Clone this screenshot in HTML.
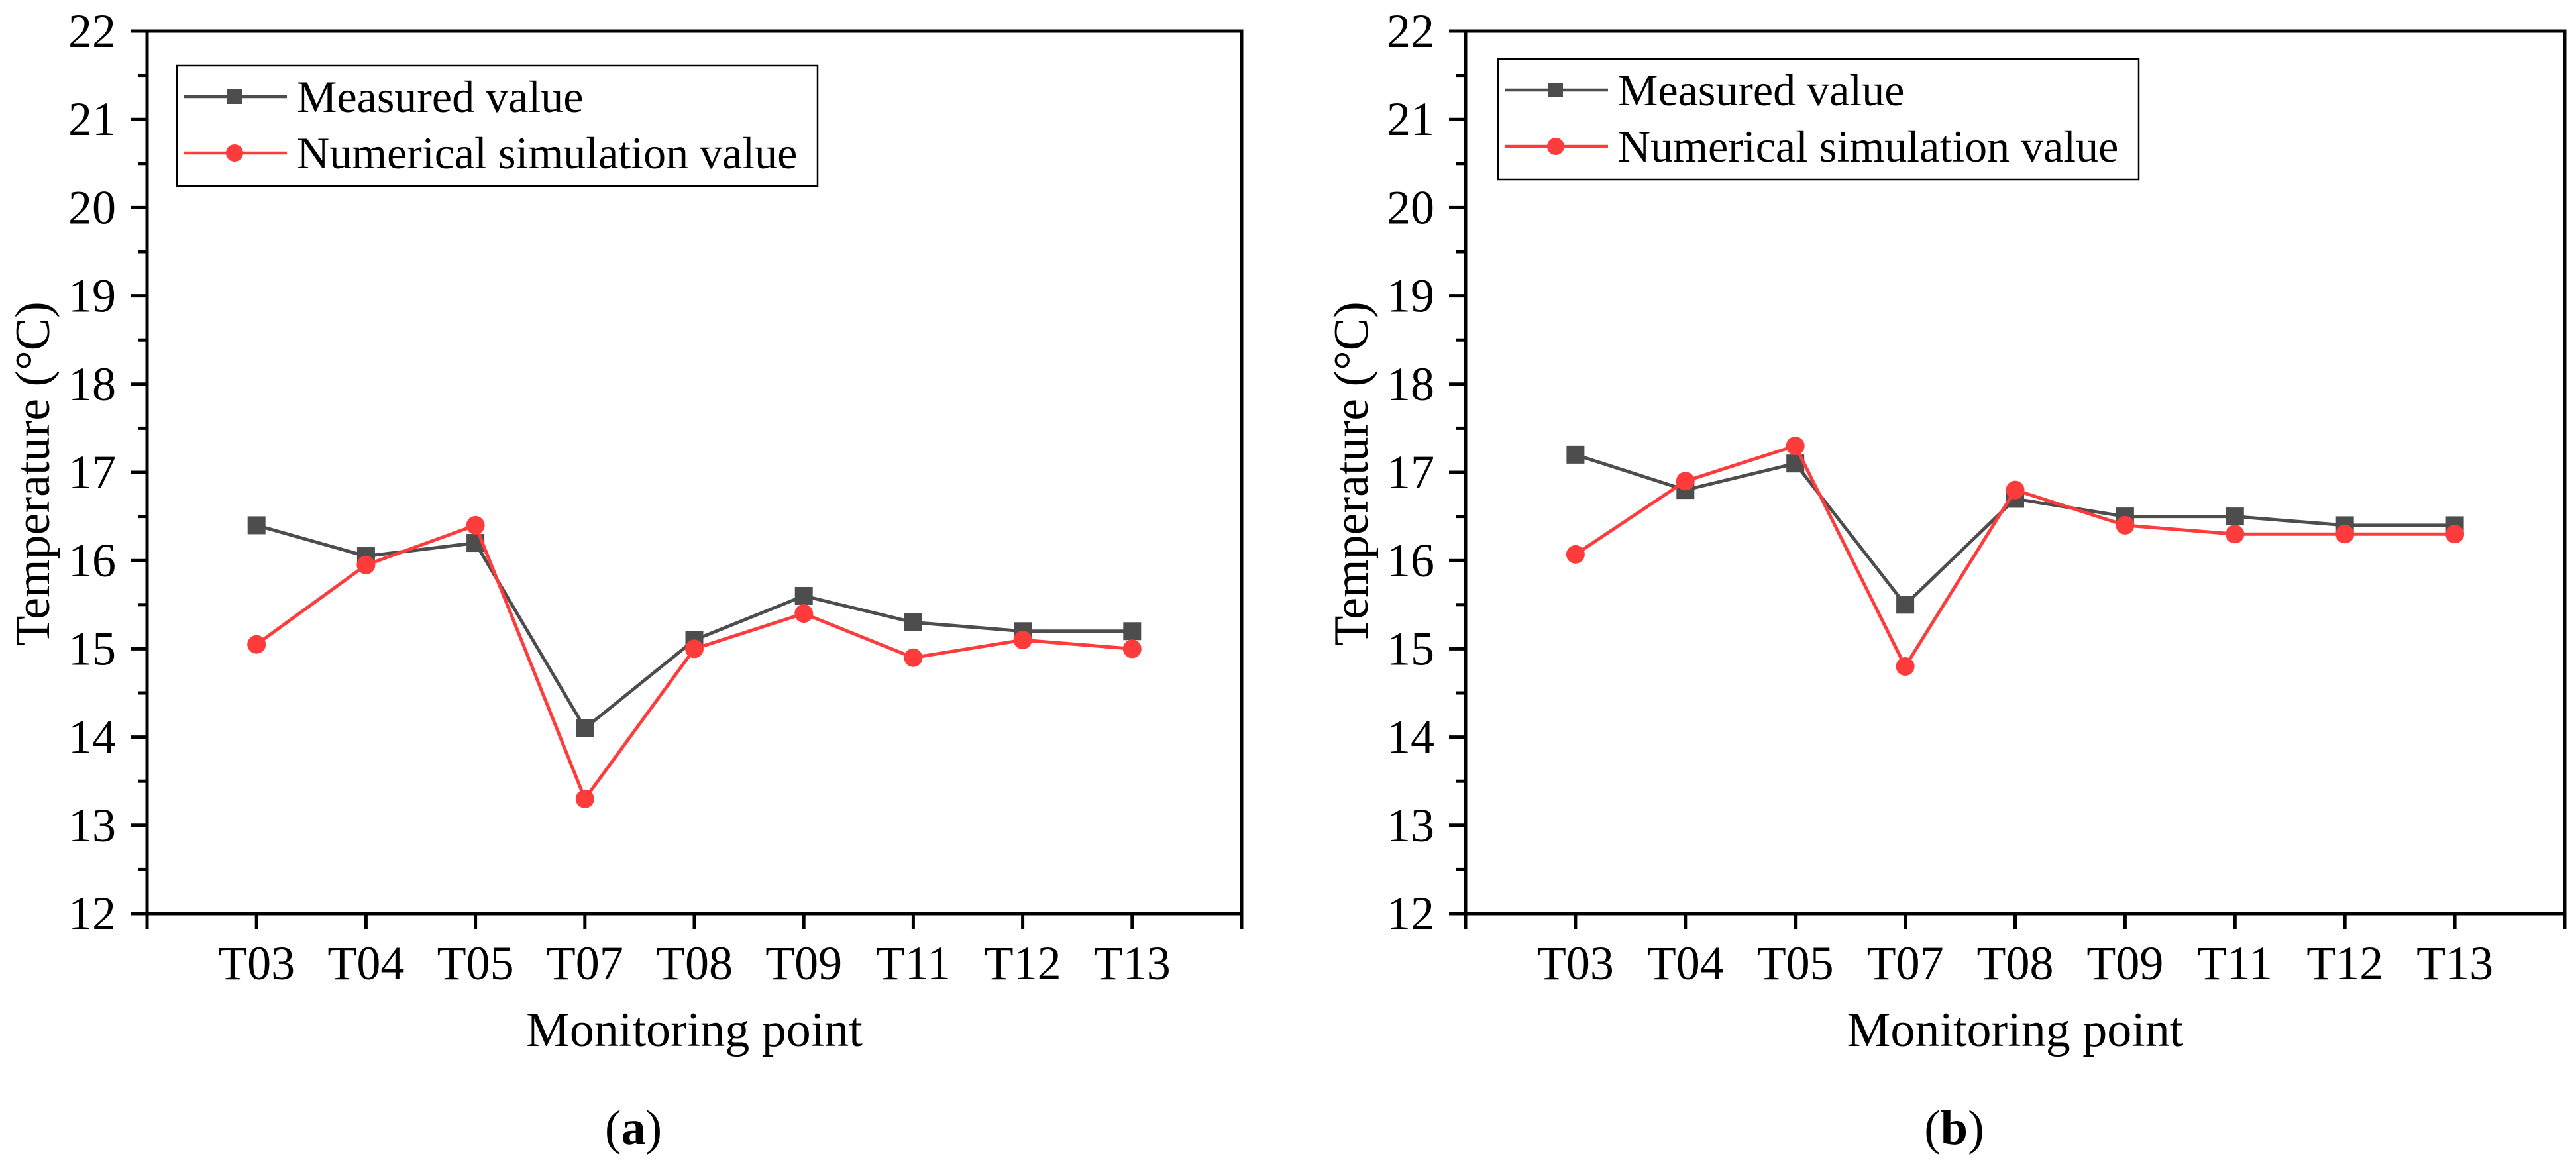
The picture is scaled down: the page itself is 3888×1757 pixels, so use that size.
<!DOCTYPE html>
<html><head><meta charset="utf-8"><style>
html,body{margin:0;padding:0;background:#fff;}
svg{display:block;}
svg text{font-family:"Liberation Serif","Times New Roman","DejaVu Serif",serif;}
</style></head><body>
<svg id="fig" width="3888" height="1757" viewBox="0 0 3888 1757" xmlns="http://www.w3.org/2000/svg" font-family="'Liberation Serif', 'Times New Roman', serif"></svg>
<script>
const categories = ["T03","T04","T05","T07","T08","T09","T11","T12","T13"];
const yTicks = [12,13,14,15,16,17,18,19,20,21,22];
const measuredA = [16.4,16.05,16.2,14.1,15.1,15.6,15.3,15.2,15.2];
const simulatedA = [15.05,15.95,16.4,13.3,15.0,15.4,14.9,15.1,15.0];
const measuredB = [17.2,16.8,17.1,15.5,16.7,16.5,16.5,16.4,16.4];
const simulatedB = [16.07,16.9,17.3,14.8,16.8,16.4,16.3,16.3,16.3];
const panelLabels = ["(a)","(b)"];

const NS="http://www.w3.org/2000/svg";
const FF="'Liberation Serif', 'Times New Roman', 'DejaVu Serif', serif";
const svg=document.getElementById('fig');
function mk(tag,attrs,parent){const e=document.createElementNS(NS,tag);for(const k in attrs)e.setAttribute(k,attrs[k]);if(tag==='text')e.setAttribute('font-family',FF);(parent||svg).appendChild(e);return e;}

function panel(idx,L,R,T,B,meas,sim,leg){
  const g=mk('g',{});
  
  
  const ymin=12,ymax=22;
  const yS=v=>B-(v-ymin)/(ymax-ymin)*(B-T);
  const xS=i=>L+(i+1)*(R-L)/(categories.length+1);
  yTicks.forEach((v,i)=>{
    const y=yS(v);
    const t=mk('line',{x1:L-25,x2:L,y1:y,y2:y,stroke:'#000','stroke-width':5},g);
    
    
    const tx=mk('text',{x:L-47,y:y+24,'font-size':72,'text-anchor':'end',fill:'#000'},g);
    tx.textContent=v;
    
    
    if(i<yTicks.length-1){
      const ym=yS(v+0.5);
      const m=mk('line',{x1:L-14,x2:L,y1:ym,y2:ym,stroke:'#000','stroke-width':5},g);
      
      
    }
  });
  categories.forEach((c,i)=>{
    const x=xS(i);
    const t=mk('line',{x1:x,x2:x,y1:B,y2:B+24,stroke:'#000','stroke-width':5},g);
    
    
    const tx=mk('text',{x:x,y:B+99,'font-size':72,'text-anchor':'middle',fill:'#000'},g);
    tx.textContent=c;
    
    
  });
  [L,R].forEach(x=>{const e=mk('line',{x1:x,x2:x,y1:B,y2:B+24,stroke:'#000','stroke-width':5},g);
    
    });
  const frame=mk('rect',{x:L,y:T,width:R-L,height:B-T,fill:'none',stroke:'#000','stroke-width':5},g);
  
  
  function series(vals,color,kind,name){
    const pts=vals.map((v,i)=>xS(i)+','+yS(v)).join(' ');
    const pl=mk('polyline',{points:pts,fill:'none',stroke:color,'stroke-width':5},g);
    
    
    vals.forEach((v,i)=>{
      let m;
      if(kind==='sq') m=mk('rect',{x:xS(i)-13.5,y:yS(v)-13.5,width:27,height:27,fill:color},g);
      else m=mk('circle',{cx:xS(i),cy:yS(v),r:14,fill:color},g);
      
      
    });
  }
  series(meas,'#4d4d4d','sq','measured');
  series(sim,'#ff3b3b','ci','simulated');
  const lg=mk('g',{},g);
  
  
  const box=mk('rect',{x:leg.x,y:leg.y,width:967,height:182,fill:'#fff',stroke:'#000','stroke-width':2.5},lg);
  
  
  const rows=[['Measured value','#4d4d4d','sq',47],['Numerical simulation value','#ff3b3b','ci',132]];
  rows.forEach(r=>{
    const y=leg.y+r[3];
    const ent=mk('g',{},lg);
    
    
    mk('line',{x1:leg.x+11,x2:leg.x+166,y1:y,y2:y,stroke:r[1],'stroke-width':4.5},ent);
    if(r[2]==='sq') mk('rect',{x:leg.x+87-11,y:y-11,width:22,height:22,fill:r[1]},ent);
    else mk('circle',{cx:leg.x+87,cy:y,r:13,fill:r[1]},ent);
    const t=mk('text',{x:leg.x+181,y:y+23,'font-size':68,fill:'#000'},ent);
    t.textContent=r[0];
  });
  const xt=mk('text',{x:(L+R)/2,y:B+200,'font-size':74,'text-anchor':'middle',fill:'#000'},g);
  xt.textContent='Monitoring point';
  
  
  const cy=(T+B)/2+2;
  const yt=mk('text',{x:0,y:0,'font-size':74,'text-anchor':'middle',fill:'#000',transform:'translate('+(L-148)+','+cy+') rotate(-90)'},g);
  yt.textContent='Temperature (°C)';
  
  
  const pl=mk('text',{x:(L+R)/2-92,y:1727,'font-size':74,'text-anchor':'middle',fill:'#000'},g);
  pl.appendChild(document.createTextNode('('));
  const b=document.createElementNS(NS,'tspan');b.setAttribute('font-weight','bold');b.textContent=panelLabels[idx].slice(1,2);pl.appendChild(b);
  pl.appendChild(document.createTextNode(')'));
  
  
}
panel(0,222,1874,47,1379,measuredA,simulatedA,{x:267,y:99});
panel(1,2212,3871,47,1379,measuredB,simulatedB,{x:2261,y:89});
</script>
</body></html>
